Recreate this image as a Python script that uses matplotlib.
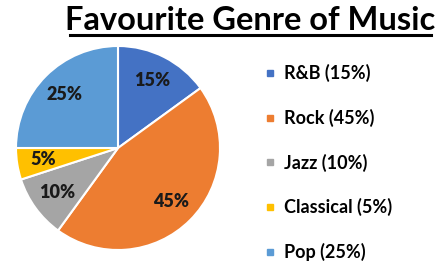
import matplotlib.pyplot as plt
from matplotlib.lines import Line2D

genres = ["R&B", "Rock", "Jazz", "Classical", "Pop"]
shares = [15, 45, 10, 5, 25]
colours = ["#4472C4", "#ED7D31", "#A5A5A5", "#FFC000", "#5B9BD5"]

plt.rcParams['font.family'] = ['Lato', 'DejaVu Sans']

W, H = 445, 267
fig = plt.figure(figsize=(W / 100, H / 100), dpi=100)

# pie: centre (118,148), radius 102 px
ax = fig.add_axes([16 / W, (H - 250) / H, 204 / W, 204 / H])
wedges, texts, autotexts = ax.pie(
    shares, colors=colours, startangle=90, counterclock=False,
    autopct="%d%%", pctdistance=0.74,
    wedgeprops=dict(edgecolor="white", linewidth=1.5),
    textprops=dict(fontsize=13, fontweight="heavy", color="#1a1a1a"))
ax.set_xlim(-1, 1)
ax.set_ylim(-1, 1)
ax.set_aspect("equal")

# title with underline
fig.text(250 / W, 1 - 30 / H, "Favourite Genre of Music", ha="center",
         va="baseline", fontsize=23.5, fontweight="bold", color="black")
fig.add_artist(Line2D([70 / W, 431 / W], [1 - 35 / H, 1 - 35 / H],
                      color="black", linewidth=2.2))

labels = ["%s (%d%%)" % (g, s) for g, s in zip(genres, shares)]
handles = [Line2D([], [], marker="s", linestyle="none", markersize=5,
                  markerfacecolor=c, markeredgecolor=c) for c in colours]
fig.legend(handles, labels, loc="upper left", bbox_to_anchor=(248 / W, 1 - 48 / H),
           frameon=False, handlelength=0.6, handletextpad=0.5,
           labelspacing=1.47, prop=dict(size=13, weight="bold"))

fig.savefig("out.png", dpi=100)
